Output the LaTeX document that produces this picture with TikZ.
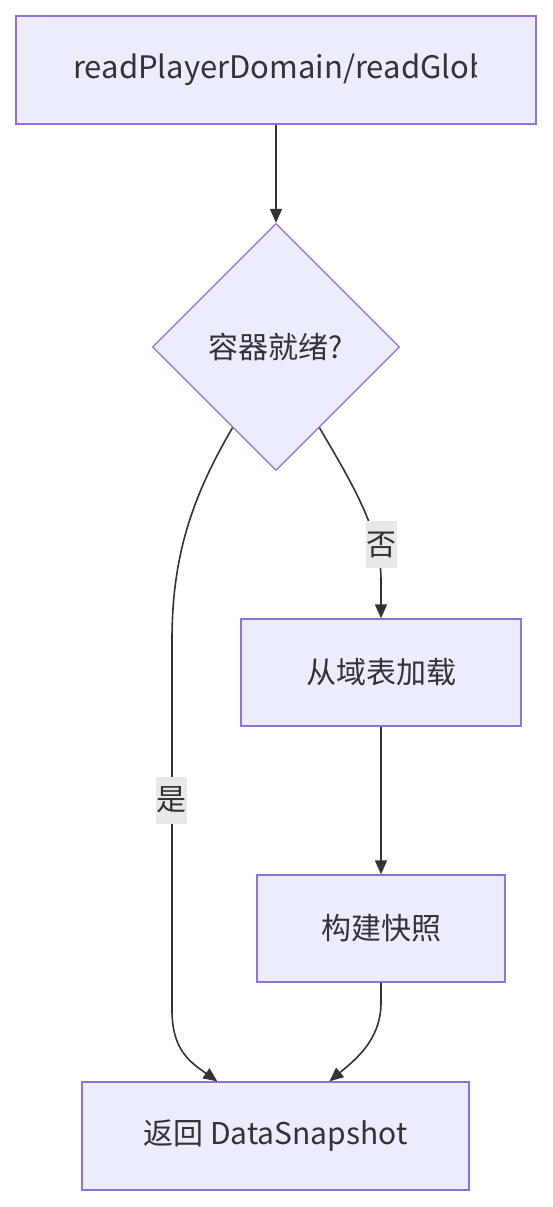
\documentclass[tikz,border=0pt]{standalone}
\usepackage{fontspec}
\setmainfont{Noto Sans CJK SC}
\usetikzlibrary{shapes.geometric,arrows.meta,calc}
\definecolor{boxfill}{HTML}{ECECFF}
\definecolor{boxline}{HTML}{9370DB}
\definecolor{edgecol}{HTML}{333333}
\definecolor{lblfill}{HTML}{E8E8E8}
\definecolor{txt}{HTML}{333333}
\begin{document}
\begin{tikzpicture}[x=1pt,y=-1pt,
  box/.style={draw=boxline,fill=boxfill,line width=1.3pt,inner sep=0pt,text=txt,font=\fontsize{30}{36}\selectfont},
  edge/.style={draw=edgecol,line width=1.6pt,-{Triangle[length=14pt,width=12pt]}},
  lbl/.style={fill=lblfill,inner sep=0pt,minimum width=31pt,minimum height=47pt,text=txt,font=\fontsize{30}{36}\selectfont},
  txtst/.style={text=txt,font=\fontsize{31}{36}\selectfont,inner sep=0pt}]
\useasboundingbox (0,0) rectangle (552,1207);
\fill[white] (0,0) rectangle (552,1207);
\node[box,minimum width=520pt,minimum height=108pt] (top) at (276,70) {};
\begin{scope}
\clip (16,16) rectangle (476,124);
\node[txtst,anchor=west] (toptext) at (73,70) {readPlayerDomain/readGlob};
\end{scope}
\node[box,diamond,aspect=1,minimum width=247pt,minimum height=247pt] (dec) at (276,347) {容器就绪?};
\node[box,minimum width=280pt,minimum height=107pt] (load) at (381,672.5) {从域表加载};
\node[box,minimum width=248pt,minimum height=107pt] (snap) at (381,928.5) {构建快照};
\node[box,minimum width=387pt,minimum height=108pt] (ret) at (275.5,1136) {返回 DataSnapshot};
\coordinate (noStart) at ($(dec.south)!0.35!(dec.east)$);
\coordinate (yesStart) at ($(dec.south)!0.35!(dec.west)$);
\coordinate (retA) at ($(ret.north west)+(136,0)$);
\coordinate (retB) at ($(ret.north west)+(248,0)$);
\draw[edge] (top) -- (dec);
\draw[edge] (noStart) .. controls (350,480) and (381,530) .. (381,580) -- (load.north);
\node[lbl] (nolbl) at (381.5,544.5) {否};
\draw[edge] (yesStart) .. controls (190,500) and (172,560) .. (172,640) -- (172,1010) .. controls (172,1050) and (190,1062) .. (retA);
\node[lbl] (yeslbl) at (171,800) {是};
\draw[edge] (load) -- (snap);
\draw[edge] (snap.south) -- ++(0,20) .. controls (381,1040) and (355,1060) .. (retB);
\end{tikzpicture}
\end{document}
